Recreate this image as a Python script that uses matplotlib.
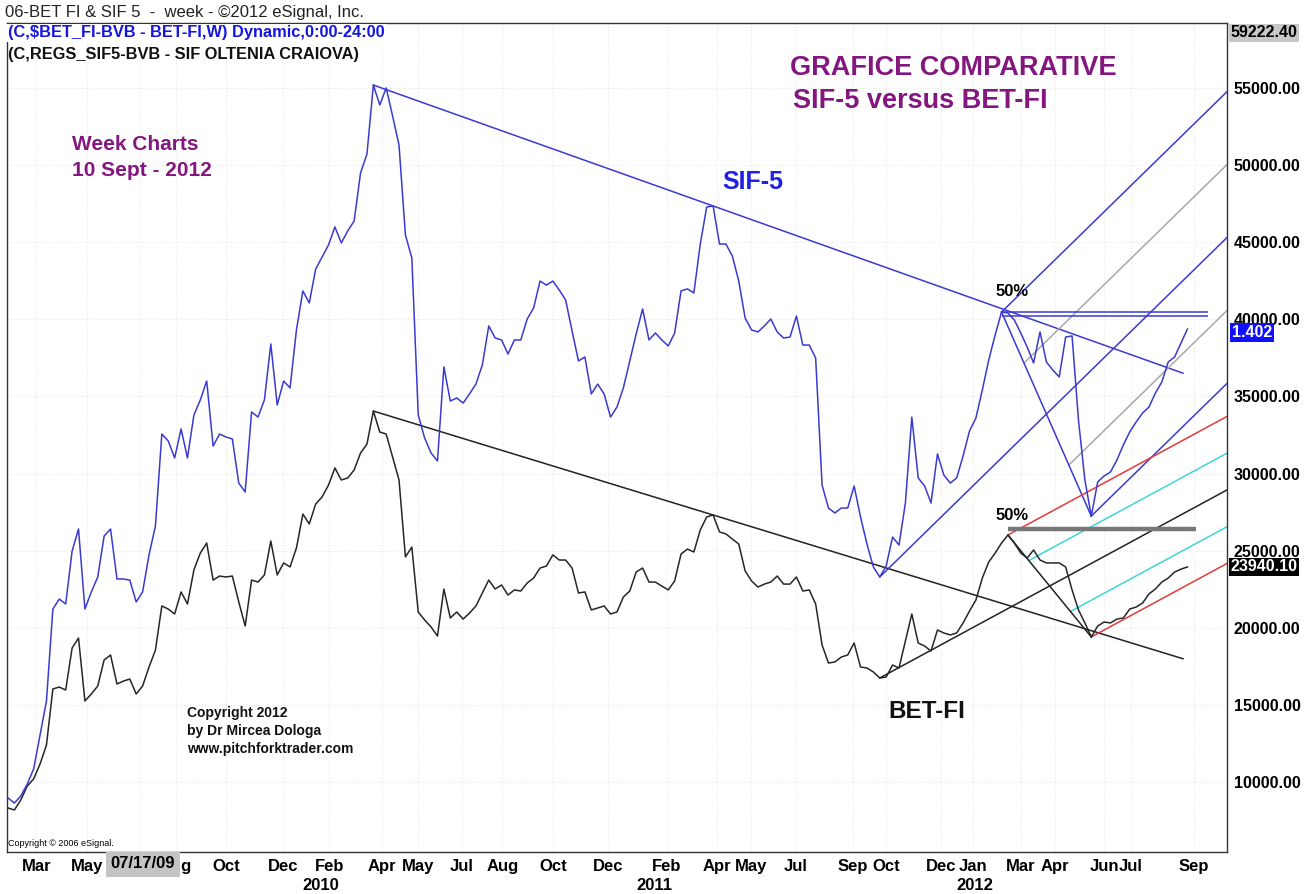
import numpy as np
import matplotlib
matplotlib.use("Agg")
import matplotlib.pyplot as plt
from matplotlib.transforms import blended_transform_factory

plt.rcParams['font.family'] = ['Liberation Sans', 'DejaVu Sans']

# weekly closes, Feb 2009 .. Sep 2012 (SIF-5 drawn on the BET-FI price scale)
sif5 = [8960, 8630, 9090, 9860, 10840, 13040, 15250, 21210, 21860, 21540,
        24970, 26400, 21210, 22320, 23290, 25950, 26400, 23160, 23160, 23090,
        21670, 22320, 24720, 26600, 32560, 32110, 31010, 32890, 31010, 33790,
        34770, 36000, 31780, 32560, 32370, 32240, 29380, 28800, 33990, 33660,
        34770, 38400, 34440, 36000, 35550, 39310, 41840, 41060, 43260, 44040,
        44820, 45990, 44950, 45730, 46380, 49490, 50720, 55190, 53900, 55000,
        53180, 51300, 45470, 43980, 33790, 32300, 31330, 30810, 36910, 34700,
        34900, 34570, 35160, 35800, 37040, 39570, 38790, 38660, 37750, 38660,
        38660, 40020, 40730, 42480, 42220, 42480, 41900, 41250, 39240, 37300,
        37560, 35160, 35800, 35160, 33660, 34310, 35550, 37300, 39050, 40670,
        38660, 39110, 38660, 38270, 39110, 41840, 41970, 41710, 44880, 47280,
        47350, 44880, 44880, 44110, 42480, 40080, 39310, 39180, 39570, 40020,
        39180, 38790, 38850, 40210, 38330, 38330, 37490, 29250, 27760, 27440,
        27760, 27760, 29190, 27180, 25430, 23940, 23290, 24000, 25880, 25360,
        28090, 33660, 29710, 29190, 28090, 31270, 29900, 29380, 29710, 31140,
        32760, 33600, 35420, 37360, 38980, 40470, 40410, 39950, 39110, 38200,
        37170, 39180, 37230, 36710, 36260, 38850, 38920, 33470, 29580, 27240,
        29450, 29840, 30100, 30880, 31850, 32700, 33340, 33920, 34310, 35220,
        35930, 37230, 37560, 38460, 39370]

betfi = [8310, 8180, 8830, 9730, 10190, 11160, 12390, 16030, 16150, 15960,
         18680, 19330, 15250, 15700, 16220, 17910, 18230, 16350, 16540, 16670,
         15700, 16220, 17450, 18550, 21410, 21210, 20890, 22320, 21540, 23740,
         24840, 25490, 23090, 23350, 23290, 23350, 21670, 20110, 23090, 22960,
         23420, 25620, 23420, 24200, 23940, 25170, 27370, 26730, 28020, 28480,
         29250, 30360, 29580, 29710, 30230, 31330, 31910, 34050, 32690, 32560,
         31070, 29580, 24590, 25230, 21020, 20500, 20050, 19460, 22510, 20630,
         21020, 20560, 20950, 21410, 22250, 23090, 22510, 22770, 22120, 22450,
         22380, 22900, 23220, 23870, 24000, 24720, 24390, 24390, 23870, 22250,
         22320, 21150, 21280, 21410, 20890, 21020, 21990, 22380, 23610, 23870,
         22960, 22960, 22700, 22450, 23030, 24780, 25100, 24910, 26340, 27180,
         27310, 26210, 26080, 25750, 25430, 23680, 23030, 22640, 22830, 22960,
         23350, 22830, 22830, 23290, 22380, 22450, 21540, 18880, 17710, 17780,
         18100, 18230, 19010, 17450, 17390, 17130, 16740, 16800, 17580, 17390,
         19140, 20890, 19010, 18810, 18490, 19850, 19660, 19530, 19660, 20310,
         21080, 21800, 23220, 24260, 24840, 25490, 26010, 25490, 24840, 24520,
         25040, 24390, 24200, 24200, 24200, 23940, 22450, 21150, 20310, 19400,
         20110, 20370, 20310, 20560, 20630, 21210, 21340, 21600, 22190, 22510,
         22960, 23220, 23610, 23800, 23940.10]

month_pos = [4.4, 12.3, 20.6, 26.2, 34.0, 42.9, 50.1, 58.3, 64.0, 70.8, 77.1,
             85.0, 93.6, 102.8, 110.6, 115.9, 122.9, 131.8, 137.0, 145.6,
             150.5, 158.0, 163.3, 171.0, 175.2, 185.0]
month_lbl = ['Mar', 'May', 'Jul', 'Aug', 'Oct', 'Dec', 'Feb', 'Apr', 'May',
             'Jul', 'Aug', 'Oct', 'Dec', 'Feb', 'Apr', 'May', 'Jul', 'Sep',
             'Oct', 'Dec', 'Jan', 'Mar', 'Apr', 'Jun', 'Jul', 'Sep']
year_pos = [48.8, 100.8, 150.9]
year_lbl = ['2010', '2011', '2012']
price_ticks = [10000, 15000, 20000, 25000, 30000, 35000, 40000, 45000, 50000, 55000]

# pivots (week index) used by the hand drawn lines
top1, top2 = 57, 110
piv_a, piv_b_sif, piv_b_bet, piv_c = 136, 155, 156, 169

W, H = 1313, 894
BLUE = '#3a3ad0'
PURPLE = '#84167f'


def fx(x):
    return x / W


def fy(y):
    return 1 - y / H


def trend(ax, s, i1, i2, x_end, color):
    k = (s[i2] - s[i1]) / (i2 - i1)
    ax.plot([i1, x_end], [s[i1], s[i1] + k * (x_end - i1)], color=color, lw=1.1)


def pitchfork(ax, s, a, b, c, x_end, c_med, c_tine, c_q):
    ya, yb, yc = s[a], s[b], s[c]
    mx, my = (b + c) / 2, (yb + yc) / 2
    k = (my - ya) / (mx - a)
    ax.plot([a, x_end], [ya, ya + k * (x_end - a)], color=c_med, lw=1.1)
    for x1, y1 in [(b, yb), (c, yc)]:
        ax.plot([x1, x_end], [y1, y1 + k * (x_end - x1)], color=c_tine, lw=1.1)
    for x1, y1 in [((b + mx) / 2, (yb + my) / 2), ((c + mx) / 2, (yc + my) / 2)]:
        ax.plot([x1, x_end], [y1, y1 + k * (x_end - x1)], color=c_q, lw=1.1)
    ax.plot([b, c], [yb, yc], color=c_med, lw=1.1)


fig = plt.figure(figsize=(W / 100, H / 100), dpi=100)
ax = fig.add_axes([fx(7), fy(852), (1227 - 7) / W, (852 - 23) / H])

dx = 6.41
xr = (1227 - 8) / dx
ax.set_xlim((7 - 8) / dx, xr)
ax.set_ylim(5455, 59215)

x = np.arange(len(betfi))
ax.plot(x, betfi, color='#262626', lw=1.1, zorder=3)
ax.plot(np.arange(len(sif5)), sif5, color=BLUE, lw=1.1, zorder=3)

# trend lines through the 2010 / 2011 tops
trend(ax, sif5, top1, top2, 183.3, BLUE)
trend(ax, betfi, top1, top2, 183.3, '#222222')

# pitchforks
pitchfork(ax, sif5, piv_a, piv_b_sif, piv_c, xr, BLUE, BLUE, '#a8a8a8')
pitchfork(ax, betfi, piv_a, piv_b_bet, piv_c, xr, '#222222', '#e03a3a', '#3fd6d6')

ax.hlines([sif5[piv_b_sif], sif5[piv_b_sif] - 260], piv_b_sif, 187.2, color=BLUE, lw=1.1)
ax.hlines(betfi[piv_b_bet] + 400, piv_b_bet, 185.3, color='#777777', lw=3.2)

# axes cosmetics
ax.yaxis.tick_right()
ax.set_yticks(price_ticks)
ax.set_yticklabels([f'{v:.2f}' for v in price_ticks], fontsize=11.5, fontweight='bold')
ax.tick_params(axis='y', length=0, pad=5)
ax.set_xticks(month_pos)
ax.set_xticklabels(month_lbl, fontsize=12, fontweight='bold')
ax.tick_params(axis='x', length=0, pad=5)
ax.grid(True, color='#e8e8e8', ls=':', lw=0.8)
for sp in ax.spines.values():
    sp.set_color('#333333')
    sp.set_linewidth(1.0)

tr = blended_transform_factory(ax.transData, ax.transAxes)
for p, lbl in zip(year_pos, year_lbl):
    ax.text(p, -0.04, lbl, transform=tr, ha='center', va='center',
            fontsize=12, fontweight='bold')

# price tags on the right scale
tr_y = blended_transform_factory(ax.transAxes, ax.transData)
ax.text(1.003, 59222.4 - 650, '59222.40', transform=tr_y, va='center', fontsize=11.5,
        fontweight='bold', clip_on=False,
        bbox=dict(boxstyle='square,pad=0.1', fc='#c8c8c8', ec='none'))
ax.text(1.004, sif5[-1] - 230, '1.402', transform=tr_y, va='center', fontsize=11.5,
        fontweight='bold', color='white', clip_on=False, zorder=5,
        bbox=dict(boxstyle='square,pad=0.1', fc='#1010ff', ec='none'))
ax.text(1.003, betfi[-1], '23940.10', transform=tr_y, va='center', fontsize=11.5,
        fontweight='bold', color='white', clip_on=False, zorder=5,
        bbox=dict(boxstyle='square,pad=0.1', fc='black', ec='none'))

# header texts
fig.text(fx(5), fy(12), '06-BET FI & SIF 5  -  week - \u00a92012 eSignal, Inc.',
         va='center', fontsize=12, color='#222222')
fig.text(fx(8), fy(33), r'(C,\$BET_FI-BVB - BET-FI,W) Dynamic,0:00-24:00',
         va='center', fontsize=11.8, fontweight='bold', color='#1515e0',
         bbox=dict(boxstyle='square,pad=0.12', fc='white', ec='none'))
fig.text(fx(8), fy(54), '(C,REGS_SIF5-BVB - SIF OLTENIA CRAIOVA)',
         va='center', fontsize=11.8, fontweight='bold', color='#111111')

# annotations
fig.text(fx(790), fy(68), 'GRAFICE COMPARATIVE', va='center', fontsize=19.5,
         fontweight='bold', color=PURPLE)
fig.text(fx(793), fy(101), 'SIF-5 versus BET-FI', va='center', fontsize=19.5,
         fontweight='bold', color=PURPLE)
fig.text(fx(72), fy(144), 'Week Charts', va='center', fontsize=15,
         fontweight='bold', color=PURPLE)
fig.text(fx(72), fy(171), '10 Sept - 2012', va='center', fontsize=15,
         fontweight='bold', color=PURPLE)
fig.text(fx(722), fy(182), 'SIF-5', va='center', fontsize=18,
         fontweight='bold', color='#1f1fe6')
fig.text(fx(888), fy(712), 'BET-FI', va='center', fontsize=17.5,
         fontweight='bold', color='#111111')
fig.text(fx(996), fy(292), '50%', va='center', fontsize=12, fontweight='bold')
fig.text(fx(996), fy(515), '50%', va='center', fontsize=12, fontweight='bold')
for i, line in enumerate(['Copyright 2012', 'by Dr Mircea Dologa', 'www.pitchforktrader.com']):
    fig.text(fx(187), fy(713 + 18 * i), line, va='center', fontsize=10,
             fontweight='bold', color='#111111')
fig.text(fx(8), fy(843), 'Copyright \u00a9 2006 eSignal.', va='center', fontsize=6.5)
fig.text(fx(143), fy(864), '07/17/09', ha='center', va='center', fontsize=12,
         fontweight='bold', zorder=10,
         bbox=dict(boxstyle='square,pad=0.3', fc='#c4c4c4', ec='none'))

fig.savefig('out.png', dpi=100)
